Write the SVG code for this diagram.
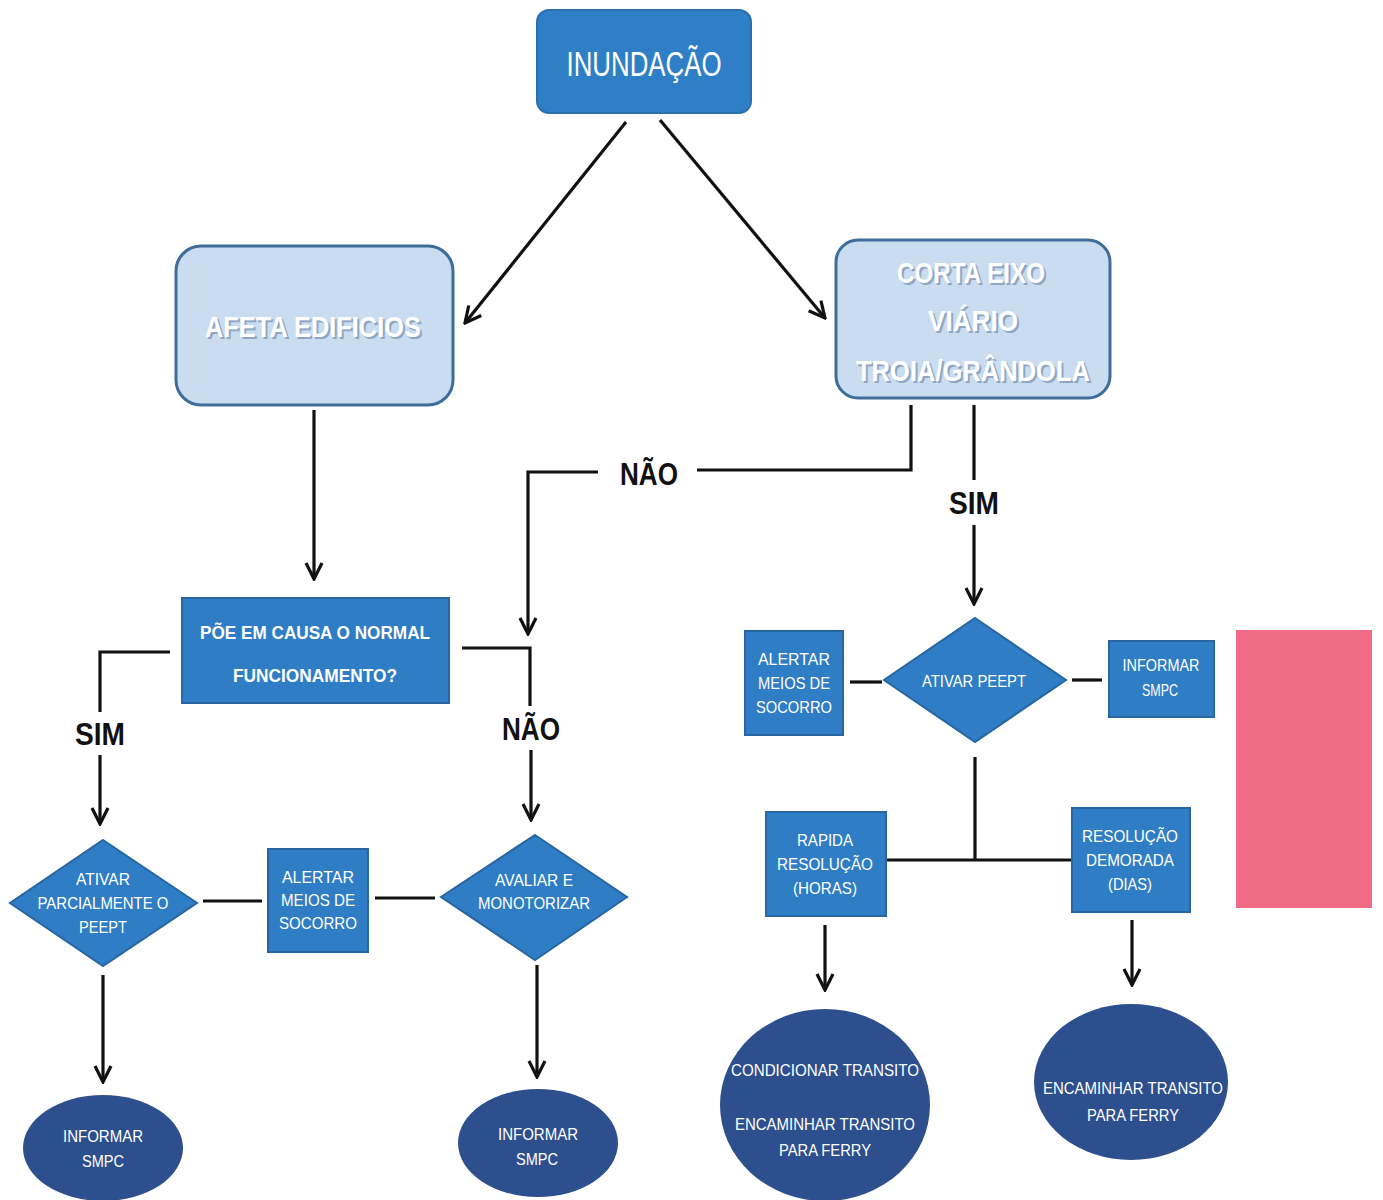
<svg xmlns="http://www.w3.org/2000/svg" width="1383" height="1200" viewBox="0 0 1383 1200">
  <style>
    .bg { fill: #ffffff; }
    .top { fill: #2f7fc6; stroke: #2a6eae; stroke-width: 2; }
    .soft { fill: #c9dcf0; stroke: #3e6d9a; stroke-width: 3; }
    .box { fill: #2f7dc4; stroke: #2866a3; stroke-width: 2; }
    .oval { fill: #2d4f8d; }
    .pink { fill: #f06b86; }
    .t { fill: #ffffff; font-family: "Liberation Sans", Arial, sans-serif; text-anchor: middle; dominant-baseline: central; }
    .tb { font-weight: bold; }
    .softtxt { font-family: "Liberation Sans", Arial, sans-serif; font-weight: bold; text-anchor: middle; dominant-baseline: central; font-size: 30px; }
    .shade { fill: #8fa6c2; }
    .face { fill: #ffffff; }
    .lbl { fill: #111111; font-family: "Liberation Sans", Arial, sans-serif; font-weight: bold; text-anchor: middle; dominant-baseline: central; font-size: 32px; }
    .c { fill: none; stroke: #111111; stroke-width: 3.2; }
  </style>
  <defs>
    <marker id="arr" viewBox="0 0 12 12" refX="11" refY="6" markerWidth="6" markerHeight="6" orient="auto" markerUnits="strokeWidth">
      <path d="M1,1 L11,6 L1,11" fill="none" stroke="#111111" stroke-width="2"/>
    </marker>
  </defs>
  <rect class="bg" x="0" y="0" width="1383" height="1200"/>

  <!-- connectors -->
  <g id="connectors">
    <line class="c" x1="626" y1="122" x2="465" y2="323" marker-end="url(#arr)"/>
    <line class="c" x1="660" y1="120" x2="825" y2="318" marker-end="url(#arr)"/>
    <line class="c" x1="314" y1="410" x2="314" y2="579" marker-end="url(#arr)"/>
    <!-- NÃO branch from road cut -->
    <polyline class="c" points="911,405 911,470 697,470"/>
    <polyline class="c" points="598,472 528,472 528,634" marker-end="url(#arr)"/>
    <!-- SIM branch from road cut -->
    <line class="c" x1="974" y1="405" x2="974" y2="480"/>
    <line class="c" x1="974" y1="525" x2="974" y2="604" marker-end="url(#arr)"/>
    <!-- decision outputs -->
    <polyline class="c" points="170,652 100,652 100,712"/>
    <line class="c" x1="100" y1="755" x2="100" y2="824" marker-end="url(#arr)"/>
    <polyline class="c" points="462,648 530,648 530,706"/>
    <line class="c" x1="531" y1="750" x2="531" y2="820" marker-end="url(#arr)"/>
    <!-- side links -->
    <line class="c" x1="850" y1="682" x2="882" y2="682"/>
    <line class="c" x1="1072" y1="680" x2="1102" y2="680"/>
    <line class="c" x1="203" y1="901" x2="262" y2="901"/>
    <line class="c" x1="375" y1="898" x2="435" y2="898"/>
    <!-- resolution split -->
    <line class="c" x1="975" y1="757" x2="975" y2="860"/>
    <line class="c" x1="886" y1="860" x2="1072" y2="860"/>
    <!-- to end nodes -->
    <line class="c" x1="825" y1="925" x2="825" y2="990" marker-end="url(#arr)"/>
    <line class="c" x1="1132" y1="920" x2="1132" y2="985" marker-end="url(#arr)"/>
    <line class="c" x1="103" y1="975" x2="103" y2="1082" marker-end="url(#arr)"/>
    <line class="c" x1="537" y1="965" x2="537" y2="1077" marker-end="url(#arr)"/>
    <text class="lbl" x="649" y="474" textLength="58" lengthAdjust="spacingAndGlyphs">NÃO</text>
    <text class="lbl" x="974" y="503" textLength="50" lengthAdjust="spacingAndGlyphs">SIM</text>
    <text class="lbl" x="100" y="734" textLength="50" lengthAdjust="spacingAndGlyphs">SIM</text>
    <text class="lbl" x="531" y="729" textLength="58" lengthAdjust="spacingAndGlyphs">NÃO</text>
  </g>

  <g id="inundacao">
    <rect class="top" x="537" y="10" width="214" height="103" rx="12"/>
    <text class="t" x="644" y="63" font-size="35" font-family="Lato, sans-serif" textLength="155" lengthAdjust="spacingAndGlyphs">INUNDAÇÃO</text>
  </g>

  <g id="afeta-edificios">
    <rect class="soft" x="176" y="246" width="277" height="159" rx="25"/>
    <text class="softtxt shade" x="315" y="328" textLength="216" lengthAdjust="spacingAndGlyphs">AFETA  EDIFICIOS</text>
    <text class="softtxt face" x="313" y="326" textLength="216" lengthAdjust="spacingAndGlyphs">AFETA  EDIFICIOS</text>
  </g>

  <g id="corta-eixo">
    <rect class="soft" x="836" y="240" width="274" height="158" rx="22"/>
    <text class="softtxt shade" x="973" y="274" textLength="148" lengthAdjust="spacingAndGlyphs">CORTA EIXO</text>
    <text class="softtxt face" x="971" y="272" textLength="148" lengthAdjust="spacingAndGlyphs">CORTA EIXO</text>
    <text class="softtxt shade" x="975" y="322" textLength="90" lengthAdjust="spacingAndGlyphs">VIÁRIO</text>
    <text class="softtxt face" x="973" y="320" textLength="90" lengthAdjust="spacingAndGlyphs">VIÁRIO</text>
    <text class="softtxt shade" x="975" y="372" textLength="234" lengthAdjust="spacingAndGlyphs">TROIA/GRÂNDOLA</text>
    <text class="softtxt face" x="973" y="370" textLength="234" lengthAdjust="spacingAndGlyphs">TROIA/GRÂNDOLA</text>
  </g>

  <g id="poe-em-causa">
    <rect class="box" x="182" y="598" width="267" height="105"/>
    <text class="t tb" x="315" y="632" font-size="19" textLength="230" lengthAdjust="spacingAndGlyphs">PÕE EM CAUSA O NORMAL</text>
    <text class="t tb" x="315" y="675" font-size="19" textLength="164" lengthAdjust="spacingAndGlyphs">FUNCIONAMENTO?</text>
  </g>

  <g id="ativar-parcialmente">
    <polygon class="box" points="103,840 197,903 103,966 10,903"/>
    <text class="t" x="103" y="879" font-size="17" textLength="54" lengthAdjust="spacingAndGlyphs">ATIVAR</text>
    <text class="t" x="103" y="903" font-size="17" textLength="131" lengthAdjust="spacingAndGlyphs">PARCIALMENTE O</text>
    <text class="t" x="103" y="927" font-size="17" textLength="48" lengthAdjust="spacingAndGlyphs">PEEPT</text>
  </g>

  <g id="alertar-meios-esq">
    <rect class="box" x="268" y="849" width="100" height="103"/>
    <text class="t" x="318" y="877" font-size="17" textLength="72" lengthAdjust="spacingAndGlyphs">ALERTAR</text>
    <text class="t" x="318" y="900" font-size="17" textLength="74" lengthAdjust="spacingAndGlyphs">MEIOS DE</text>
    <text class="t" x="318" y="923" font-size="17" textLength="78" lengthAdjust="spacingAndGlyphs">SOCORRO</text>
  </g>

  <g id="avaliar-monitorizar">
    <polygon class="box" points="535,835 627,897 535,960 441,897"/>
    <text class="t" x="534" y="880" font-size="17" textLength="78" lengthAdjust="spacingAndGlyphs">AVALIAR E</text>
    <text class="t" x="534" y="903" font-size="17" textLength="112" lengthAdjust="spacingAndGlyphs">MONOTORIZAR</text>
  </g>

  <g id="informar-smpc-1">
    <ellipse class="oval" cx="103" cy="1148" rx="80" ry="53"/>
    <text class="t" x="103" y="1136" font-size="16" textLength="80" lengthAdjust="spacingAndGlyphs">INFORMAR</text>
    <text class="t" x="103" y="1161" font-size="16" textLength="42" lengthAdjust="spacingAndGlyphs">SMPC</text>
  </g>

  <g id="informar-smpc-2">
    <ellipse class="oval" cx="538" cy="1143" rx="80" ry="54"/>
    <text class="t" x="538" y="1134" font-size="16" textLength="80" lengthAdjust="spacingAndGlyphs">INFORMAR</text>
    <text class="t" x="537" y="1159" font-size="16" textLength="42" lengthAdjust="spacingAndGlyphs">SMPC</text>
  </g>

  <g id="alertar-meios-dir">
    <rect class="box" x="745" y="631" width="98" height="104"/>
    <text class="t" x="794" y="659" font-size="17" textLength="72" lengthAdjust="spacingAndGlyphs">ALERTAR</text>
    <text class="t" x="794" y="683" font-size="17" textLength="72" lengthAdjust="spacingAndGlyphs">MEIOS DE</text>
    <text class="t" x="794" y="707" font-size="17" textLength="76" lengthAdjust="spacingAndGlyphs">SOCORRO</text>
  </g>

  <g id="ativar-peept">
    <polygon class="box" points="975,618 1066,680 975,742 884,680"/>
    <text class="t" x="974" y="681" font-size="16" textLength="104" lengthAdjust="spacingAndGlyphs">ATIVAR PEEPT</text>
  </g>

  <g id="informar-smpc-3">
    <rect class="box" x="1109" y="641" width="105" height="76"/>
    <text class="t" x="1161" y="665" font-size="16" textLength="77" lengthAdjust="spacingAndGlyphs">INFORMAR</text>
    <text class="t" x="1160" y="690" font-size="16" textLength="36" lengthAdjust="spacingAndGlyphs">SMPC</text>
  </g>

  <g id="bloco-rosa">
    <rect class="pink" x="1236" y="630" width="136" height="278"/>
  </g>

  <g id="rapida-resolucao">
    <rect class="box" x="766" y="812" width="120" height="104"/>
    <text class="t" x="825" y="840" font-size="17" textLength="56" lengthAdjust="spacingAndGlyphs">RAPIDA</text>
    <text class="t" x="825" y="864" font-size="17" textLength="96" lengthAdjust="spacingAndGlyphs">RESOLUÇÃO</text>
    <text class="t" x="825" y="888" font-size="17" textLength="64" lengthAdjust="spacingAndGlyphs">(HORAS)</text>
  </g>

  <g id="resolucao-demorada">
    <rect class="box" x="1072" y="808" width="118" height="104"/>
    <text class="t" x="1130" y="836" font-size="17" textLength="96" lengthAdjust="spacingAndGlyphs">RESOLUÇÃO</text>
    <text class="t" x="1130" y="860" font-size="17" textLength="88" lengthAdjust="spacingAndGlyphs">DEMORADA</text>
    <text class="t" x="1130" y="884" font-size="17" textLength="44" lengthAdjust="spacingAndGlyphs">(DIAS)</text>
  </g>

  <g id="condicionar-transito">
    <ellipse class="oval" cx="825" cy="1105" rx="105" ry="96"/>
    <text class="t" x="825" y="1070" font-size="17" textLength="188" lengthAdjust="spacingAndGlyphs">CONDICIONAR  TRANSITO</text>
    <text class="t" x="825" y="1124" font-size="17" textLength="180" lengthAdjust="spacingAndGlyphs">ENCAMINHAR TRANSITO</text>
    <text class="t" x="825" y="1150" font-size="17" textLength="92" lengthAdjust="spacingAndGlyphs">PARA FERRY</text>
  </g>

  <g id="encaminhar-ferry">
    <ellipse class="oval" cx="1131" cy="1082" rx="97" ry="78"/>
    <text class="t" x="1133" y="1088" font-size="17" textLength="180" lengthAdjust="spacingAndGlyphs">ENCAMINHAR TRANSITO</text>
    <text class="t" x="1133" y="1115" font-size="17" textLength="92" lengthAdjust="spacingAndGlyphs">PARA FERRY</text>
  </g>
</svg>
